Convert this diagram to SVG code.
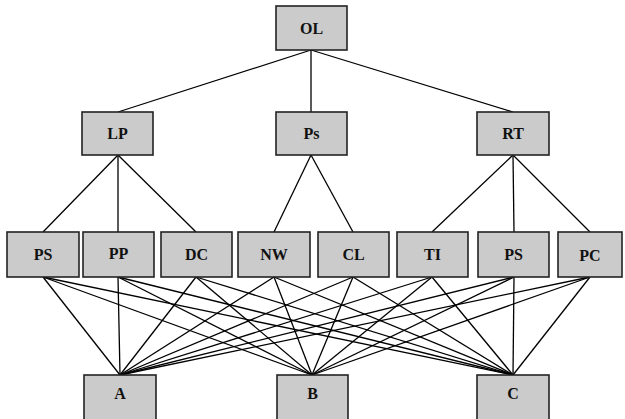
<svg xmlns="http://www.w3.org/2000/svg" width="625" height="419" viewBox="0 0 625 419">
<style>
.box{fill:#cbcbcb;stroke:#222;stroke-width:1.6}
.lbl{font-family:"Liberation Serif",serif;font-weight:bold;font-size:16px;fill:#111;text-anchor:middle}
.c line{stroke:#000;stroke-width:1.3}
</style>
<rect width="625" height="419" fill="#fff"/>
<g class="c" id="connectors">
<line x1="311" y1="50" x2="118" y2="112"/>
<line x1="311" y1="50" x2="311" y2="112"/>
<line x1="311" y1="50" x2="513" y2="112"/>
<line x1="118" y1="155" x2="43" y2="232"/>
<line x1="118" y1="155" x2="118" y2="232"/>
<line x1="118" y1="155" x2="196" y2="232"/>
<line x1="311" y1="155" x2="274" y2="232"/>
<line x1="311" y1="155" x2="353" y2="232"/>
<line x1="513" y1="155" x2="432" y2="232"/>
<line x1="513" y1="155" x2="514" y2="232"/>
<line x1="513" y1="155" x2="590" y2="232"/>
<line x1="43" y1="277" x2="120" y2="375"/><line x1="43" y1="277" x2="312" y2="375"/><line x1="43" y1="277" x2="513" y2="375"/>
<line x1="118" y1="277" x2="120" y2="375"/><line x1="118" y1="277" x2="312" y2="375"/><line x1="118" y1="277" x2="513" y2="375"/>
<line x1="196" y1="277" x2="120" y2="375"/><line x1="196" y1="277" x2="312" y2="375"/><line x1="196" y1="277" x2="513" y2="375"/>
<line x1="274" y1="277" x2="120" y2="375"/><line x1="274" y1="277" x2="312" y2="375"/><line x1="274" y1="277" x2="513" y2="375"/>
<line x1="353" y1="277" x2="120" y2="375"/><line x1="353" y1="277" x2="312" y2="375"/><line x1="353" y1="277" x2="513" y2="375"/>
<line x1="432" y1="277" x2="120" y2="375"/><line x1="432" y1="277" x2="312" y2="375"/><line x1="432" y1="277" x2="513" y2="375"/>
<line x1="514" y1="277" x2="120" y2="375"/><line x1="514" y1="277" x2="312" y2="375"/><line x1="514" y1="277" x2="513" y2="375"/>
<line x1="590" y1="277" x2="120" y2="375"/><line x1="590" y1="277" x2="312" y2="375"/><line x1="590" y1="277" x2="513" y2="375"/>
</g>
<g id="OL"><rect class="box" x="276" y="6" width="71" height="44"/><text class="lbl" x="311.5" y="34">OL</text></g>
<g id="LP"><rect class="box" x="82" y="112" width="71" height="43"/><text class="lbl" x="117.5" y="139">LP</text></g>
<g id="Ps"><rect class="box" x="276" y="112" width="71" height="43"/><text class="lbl" x="311.5" y="139">Ps</text></g>
<g id="RT"><rect class="box" x="477" y="112" width="72" height="43"/><text class="lbl" x="513" y="139">RT</text></g>
<g id="PS1"><rect class="box" x="7" y="232" width="72" height="45"/><text class="lbl" x="43" y="260">PS</text></g>
<g id="PP"><rect class="box" x="83" y="232" width="71" height="45"/><text class="lbl" x="118.5" y="259">PP</text></g>
<g id="DC"><rect class="box" x="161" y="232" width="71" height="45"/><text class="lbl" x="196.5" y="260">DC</text></g>
<g id="NW"><rect class="box" x="238" y="232" width="72" height="45"/><text class="lbl" x="274" y="260">NW</text></g>
<g id="CL"><rect class="box" x="318" y="232" width="71" height="45"/><text class="lbl" x="353.5" y="260">CL</text></g>
<g id="TI"><rect class="box" x="397" y="232" width="71" height="45"/><text class="lbl" x="432.5" y="260">TI</text></g>
<g id="PS2"><rect class="box" x="478" y="232" width="71" height="45"/><text class="lbl" x="513.5" y="260">PS</text></g>
<g id="PC"><rect class="box" x="558" y="232" width="64" height="45"/><text class="lbl" x="590" y="261">PC</text></g>
<g id="A"><rect class="box" x="84" y="375" width="72" height="50"/><text class="lbl" x="120" y="399">A</text></g>
<g id="B"><rect class="box" x="277" y="375" width="71" height="50"/><text class="lbl" x="312.5" y="399">B</text></g>
<g id="C"><rect class="box" x="477" y="375" width="72" height="50"/><text class="lbl" x="513" y="399">C</text></g>
</svg>
